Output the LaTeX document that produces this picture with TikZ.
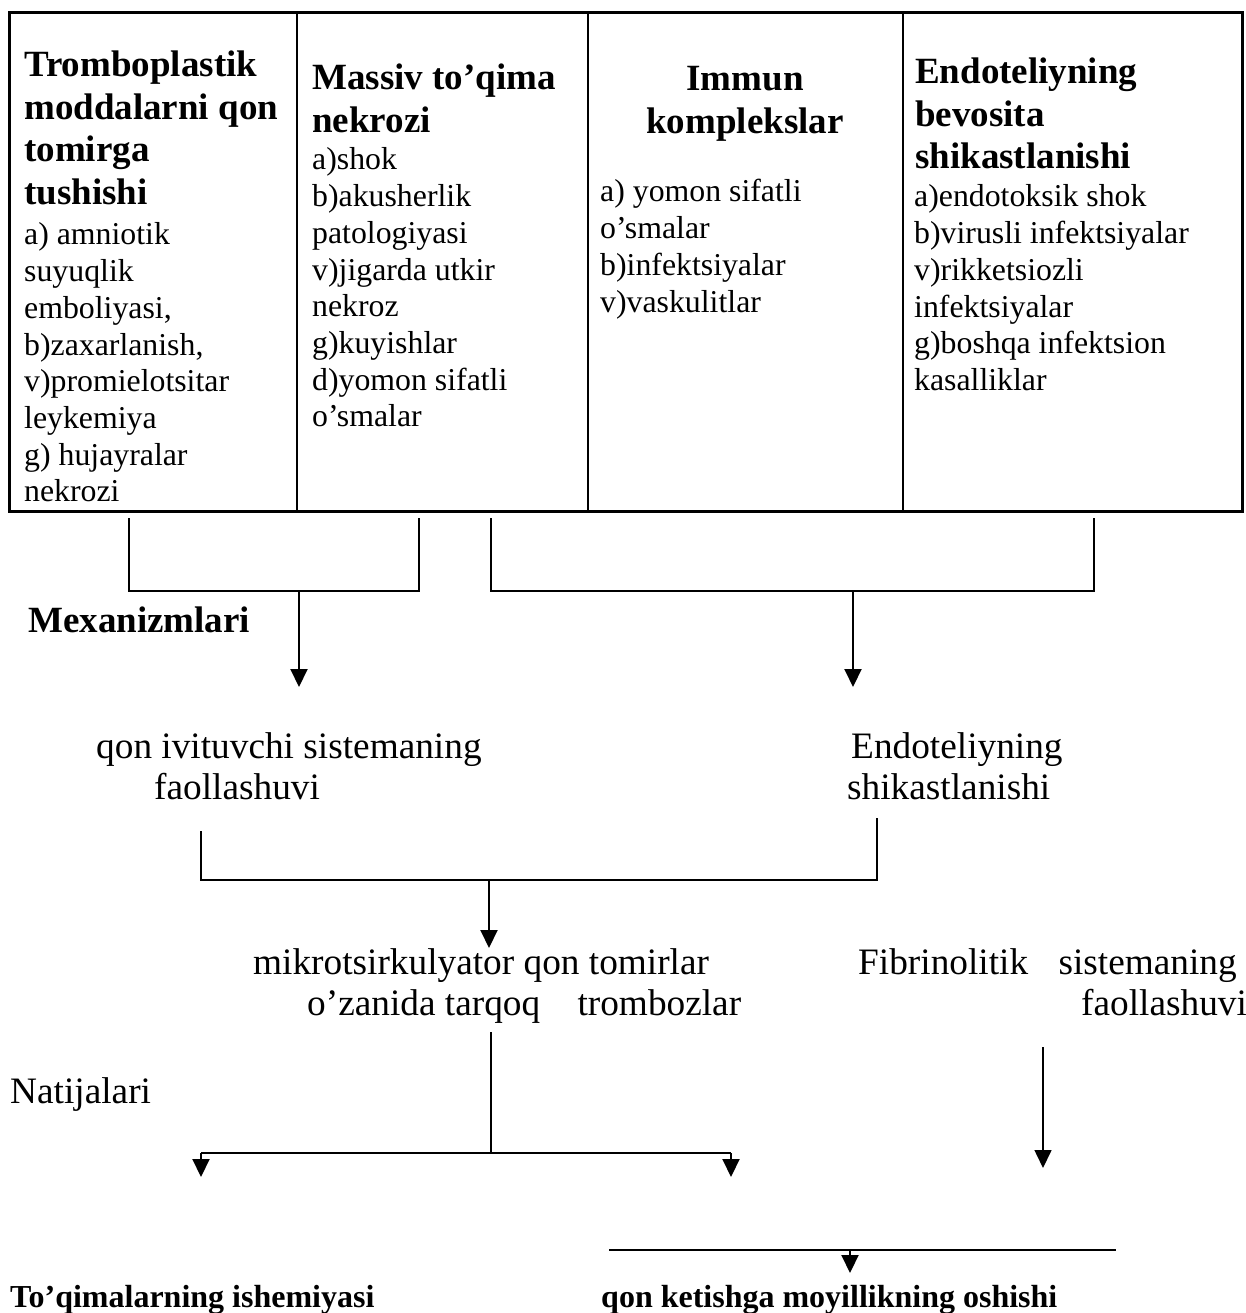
\documentclass[tikz,border=0pt]{standalone}
\usepackage{fontspec}
\setmainfont{Liberation Serif}
\usetikzlibrary{arrows.meta}
\newcommand\lns[1]{\begin{tabular}[t]{@{}l@{}}#1\end{tabular}}
\newcommand\clns[1]{\begin{tabular}[t]{@{}c@{}}#1\end{tabular}}
\begin{document}
\begin{tikzpicture}[x=1pt,y=-1pt,
  hd/.style={inner sep=0pt, anchor=base west, font=\fontsize{37}{42.5}\selectfont\bfseries},
  bd/.style={inner sep=0pt, anchor=base west, font=\fontsize{31.8}{36.7}\selectfont},
  lt/.style={inner sep=0pt, anchor=base west, font=\fontsize{37.3}{41}\selectfont},
  bb/.style={inner sep=0pt, anchor=base west, font=\fontsize{32}{36}\selectfont\bfseries},
  frame/.style={line width=3pt},
  divider/.style={line width=1.6pt},
  ln/.style={line width=2pt},
  arr/.style={line width=2pt, -{Triangle[width=17pt,length=18pt]}},
]
\useasboundingbox (0,0) rectangle (1246,1313);

% table
\draw[frame] (9,13) rectangle (1242,511);
\draw[divider] (297,13) -- (297,511);
\draw[divider] (588,13) -- (588,511);
\draw[divider] (903,13) -- (903,511);

% column 1
\node[hd] (h1) at (24,77) {\lns{Tromboplastik\\moddalarni qon\\tomirga\\tushishi}};
\node[bd] (t1) at (24,245) {\lns{a) amniotik\\suyuqlik\\emboliyasi,\\b)zaxarlanish,\\v)promielotsitar\\leykemiya\\g) hujayralar\\nekrozi}};
% column 2
\node[hd] (h2) at (312,90) {\lns{Massiv to’qima\\nekrozi}};
\node[bd] (t2) at (312,170) {\lns{a)shok\\b)akusherlik\\patologiyasi\\v)jigarda utkir\\nekroz\\g)kuyishlar\\d)yomon sifatli\\o’smalar}};
% column 3
\node[hd, anchor=base] (h3) at (745,91) {\clns{Immun\\komplekslar}};
\node[bd] (t3) at (600,202) {\lns{a) yomon sifatli\\o’smalar\\b)infektsiyalar\\v)vaskulitlar}};
% column 4
\node[hd] (h4) at (915,84) {\lns{Endoteliyning\\bevosita\\shikastlanishi}};
\node[bd] (t4) at (914,207) {\lns{a)endotoksik shok\\b)virusli infektsiyalar\\v)rikketsiozli\\infektsiyalar\\g)boshqa infektsion\\kasalliklar}};

% labels
\node[hd] (mex) at (28,632) {Mexanizmlari};
\node[lt] (qiv) at (96,758) {\lns{qon ivituvchi sistemaning\\\hspace{58pt}faollashuvi}};
\node[lt] (ends) at (847,758) {\lns{\hspace{4pt}Endoteliyning\\shikastlanishi}};
\node[lt] (mik) at (253,974) {\lns{mikrotsirkulyator qon tomirlar\\\hspace{54pt}o’zanida tarqoq\hspace{28pt} trombozlar}};
\node[lt] (fib) at (858,974) {\lns{Fibrinolitik\hspace{21pt} sistemaning\\\hspace{223pt}faollashuvi}};
\node[lt] (nat) at (10,1103) {Natijalari};
\node[bb] (ish) at (10,1307) {To’qimalarning ishemiyasi};
\node[bb] (qon) at (601,1307) {qon ketishga moyillikning oshishi};

% connector coordinates
\coordinate (b1l) at (129,518);
\coordinate (b1r) at (419,518);
\coordinate (b1m) at (299,591);
\coordinate (a1) at (299,687);
\coordinate (b2l) at (491,518);
\coordinate (b2r) at (1094,518);
\coordinate (b2m) at (853,591);
\coordinate (a2) at (853,687);
\coordinate (c1) at (201,831);
\coordinate (c2) at (877,818);
\coordinate (cm) at (489,880);
\coordinate (a3) at (489,948);
\coordinate (d0) at (491,1032);
\coordinate (dm) at (491,1153);
\coordinate (dl) at (201,1153);
\coordinate (dr) at (731,1153);
\coordinate (a4) at (201,1177);
\coordinate (a5) at (731,1177);
\coordinate (f0) at (1043,1047);
\coordinate (a6) at (1043,1168);
\coordinate (el) at (609,1250);
\coordinate (er) at (1116,1250);
\coordinate (em) at (850,1250);
\coordinate (a7) at (850,1273);

% connectors
\draw[ln] (b1l) |- (b1m) -| (b1r);
\draw[arr] (b1m) -- (a1);
\draw[ln] (b2l) |- (b2m) -| (b2r);
\draw[arr] (b2m) -- (a2);
\draw[line width=2.5pt] (c1) |- (cm) -| (c2);
\draw[arr] (cm) -- (a3);
\draw[ln] (d0) -- (dm);
\draw[ln] (dl) -- (dr);
\draw[arr] (dl) -- (a4);
\draw[arr] (dr) -- (a5);
\draw[arr, line width=1.6pt] (f0) -- (a6);
\draw[ln] (el) -- (er);
\draw[arr] (em) -- (a7);
\end{tikzpicture}
\end{document}
